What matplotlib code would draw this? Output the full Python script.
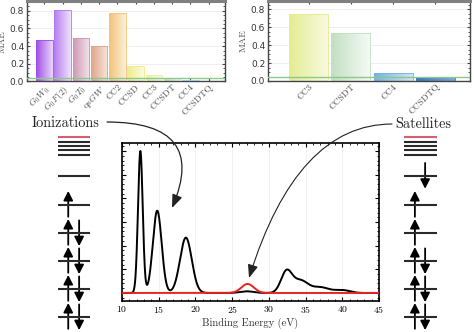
import numpy as np
import matplotlib
matplotlib.use('Agg')
import matplotlib.pyplot as plt
from matplotlib.colors import LinearSegmentedColormap
from matplotlib.patches import FancyArrowPatch
from matplotlib.ticker import MultipleLocator, NullFormatter
import matplotlib.transforms as mtransforms

plt.rcParams['mathtext.fontset'] = 'cm'
plt.rcParams['axes.formatter.use_mathtext'] = True

# ---------------- data ----------------
ion_methods = [r'$G_0W_0$', r'$G_0F(2)$', r'$G_0T_0$', r'qs$GW$', 'CC2', 'CCSD',
               'CC3', 'CCSDT', 'CC4', 'CCSDTQ']
ion_mae = [0.47, 0.81, 0.49, 0.40, 0.77, 0.17, 0.07, 0.045, 0.012, 0.006]
sat_methods = ['CC3', 'CCSDT', 'CC4', 'CCSDTQ']
sat_mae = [0.75, 0.53, 0.09, 0.04]
chem_accuracy = 0.043

ion_dark = ['#a04fe6', '#b57cf0', '#cf97b6', '#dfa48a', '#efc47c', '#eeec8c',
            '#e6f0ac', '#c6dfc0', '#9cc6e8', '#4a86cc']
ion_light = ['#ead6fa', '#f0e2fb', '#f4e4ec', '#f8e6dc', '#fcf0d6', '#fbfbdc',
             '#f9fbe8', '#eff7ec', '#e2eff9', '#a9c9ea']
sat_dark = ['#e4ec94', '#c2dfc2', '#78b2e0', '#3a78c0']
sat_light = ['#f8fade', '#f5faf3', '#d2e5f5', '#7ba9d9']

# stick spectrum (binding energy in eV, intensity, broadening width)
peak_energy = [12.5, 14.8, 18.7, 27.0, 32.4, 34.3, 37.0, 40.0]
peak_height = [6.0, 3.48, 2.34, 0.07, 0.90, 0.51, 0.24, 0.12]
peak_width = [0.32, 0.60, 0.80, 0.90, 0.75, 1.00, 1.20, 1.00]
sat_energy = [27.1]
sat_height = [0.38]
sat_width = [0.85]

# orbital energy levels (arbitrary units) and occupations
levels = [0, 1, 2, 3, 4, 5.05, 5.8, 5.95, 6.1, 6.25, 6.42]
level_red = [False] * 10 + [True]
ion_up = [1, 1, 1, 1, 1, 0, 0, 0, 0, 0, 0]
ion_down = [1, 1, 1, 1, 0, 0, 0, 0, 0, 0, 0]
sat_up = [1, 1, 1, 1, 1, 0, 0, 0, 0, 0, 0]
sat_down = [1, 1, 1, 0, 0, 1, 0, 0, 0, 0, 0]

# ---------------- figure ----------------
W, H = 474, 332
fig = plt.figure(figsize=(W / 100, H / 100), dpi=100)


def px_axes(x0, y0, x1, y1, **kw):
    return fig.add_axes([x0 / W, 1 - y1 / H, (x1 - x0) / W, (y1 - y0) / H], **kw)


def bar_panel(ax, labels, vals, dark, light, width, ylim, xlim):
    x = np.arange(len(vals))
    edges = [c for c in dark]
    bars = ax.bar(x, vals, width=width, facecolor='none', edgecolor=edges,
                  linewidth=0.7, zorder=3, alpha=0.9)
    for b, cd, cl in zip(bars, dark, light):
        cmap = LinearSegmentedColormap.from_list('g', [cd, cl])
        x0, w, h = b.get_x(), b.get_width(), b.get_height()
        im = ax.imshow(np.linspace(0, 1, 64).reshape(1, -1), cmap=cmap,
                       extent=(x0, x0 + w, 0, h), aspect='auto', zorder=2)
        im.set_clip_path(b)
    ax.axhline(chem_accuracy, color='#8cc88c', lw=1.0, zorder=4)
    ax.set_xlim(*xlim)
    ax.set_ylim(*ylim)
    ax.set_yticks([0.0, 0.2, 0.4, 0.6, 0.8])
    ax.yaxis.set_minor_locator(MultipleLocator(0.05))
    ax.set_yticklabels(['0.0', '0.2', '0.4', '0.6', '0.8'], fontsize=6.5,
                       color='#333333', family='DejaVu Sans')
    ax.grid(axis='y', color='#ececec', lw=0.6, zorder=0)
    ax.set_xticks(x)
    ax.set_xticklabels(labels, rotation=45, ha='right', va='top',
                       rotation_mode='anchor', fontsize=6.8, color='#555555',
                       family='cmr10')
    off = mtransforms.ScaledTranslation(5 / 100, -2 / 100, fig.dpi_scale_trans)
    for lbl in ax.get_xticklabels():
        lbl.set_transform(lbl.get_transform() + off)
    ax.tick_params(axis='both', which='both', direction='in', top=True,
                   right=True, color='#444444')
    ax.tick_params(axis='x', length=2.5, pad=1)
    ax.tick_params(axis='y', which='major', length=2.5, pad=2)
    ax.tick_params(axis='y', which='minor', length=1.2)
    for s in ['left', 'right', 'bottom']:
        ax.spines[s].set_color('#444444')
        ax.spines[s].set_linewidth(1.0)
    ax.spines['top'].set_color('#808080')
    ax.spines['top'].set_linewidth(2.2)
    ax.set_ylabel('MAE', family='cmr10', fontsize=7, color='#555555', labelpad=2)


ax1 = px_axes(27, 1, 225, 81.5)
bar_panel(ax1, ion_methods, ion_mae, ion_dark, ion_light, 0.9, (0, 0.91), (-0.95, 9.9))
ax2 = px_axes(268, 1, 470, 81)
bar_panel(ax2, sat_methods, sat_mae, sat_dark, sat_light, 0.92, (0, 0.89), (-0.96, 3.82))

# ---------------- spectrum ----------------
ax3 = px_axes(122, 143, 379, 301)
E = np.linspace(10, 45, 2000)
spec = np.zeros_like(E)
for c, h, s in zip(peak_energy, peak_height, peak_width):
    spec += h * np.exp(-(E - c) ** 2 / (2 * s ** 2))
spec_sat = np.zeros_like(E)
for c, h, s in zip(sat_energy, sat_height, sat_width):
    spec_sat += h * np.exp(-(E - c) ** 2 / (2 * s ** 2))
ax3.plot(E, spec, color='black', lw=1.4, zorder=3)
ax3.plot(E, spec_sat, color='#e8231f', lw=1.4, zorder=4)
ax3.set_xlim(10, 45)
ax3.set_ylim(-0.34, 6.34)
ax3.xaxis.set_major_locator(MultipleLocator(5))
ax3.xaxis.set_minor_locator(MultipleLocator(1))
ax3.yaxis.set_major_locator(MultipleLocator(1))
ax3.yaxis.set_minor_locator(MultipleLocator(0.2))
ax3.yaxis.set_major_formatter(NullFormatter())
ax3.tick_params(which='both', direction='in', top=True, right=True)
ax3.tick_params(which='major', length=3, width=0.8, labelsize=7, pad=2)
ax3.tick_params(which='minor', length=1.5, width=0.6)
for lbl in ax3.get_xticklabels():
    lbl.set_family('cmr10')
ax3.grid(axis='x', color='#f0f0f0', lw=0.6, zorder=0)
for s in ax3.spines.values():
    s.set_linewidth(1.2)
ax3.set_xlabel('Binding Energy (eV)', family='cmr10', fontsize=7.6, labelpad=2,
               color='#333333')

# ---------------- annotations ----------------
ov = fig.add_axes([0, 0, 1, 1], zorder=10)
ov.set_xlim(0, W)
ov.set_ylim(H, 0)
ov.axis('off')
ov.patch.set_alpha(0)
ov.text(32, 123, 'Ionizations', family='cmr10', fontsize=10.3, va='center',
        ha='left', color='#222222')
ov.text(395, 124, 'Satellites', family='cmr10', fontsize=10.3, va='center',
        ha='left', color='#222222')
ov.annotate('', xy=(172, 208), xytext=(107, 122),
            arrowprops=dict(arrowstyle='-|>,head_length=0.9,head_width=0.35',
                            connectionstyle='angle3,angleA=0,angleB=67',
                            lw=0.9, color='#222222', shrinkA=0, shrinkB=0,
                            mutation_scale=9))
ov.annotate('', xy=(249, 278), xytext=(392, 124),
            arrowprops=dict(arrowstyle='-|>,head_length=0.9,head_width=0.35',
                            connectionstyle='angle3,angleA=0,angleB=72.7',
                            lw=0.8, color='#222222', shrinkA=0, shrinkB=0,
                            mutation_scale=9))


# ---------------- orbital diagrams ----------------
def diagram(x0, x1, up, down, upx, downx):
    ax = px_axes(x0, 130, x1, 330)
    ax.set_xlim(0, 1)
    ax.set_ylim(-13 / 28, 187 / 28)
    ax.axis('off')
    for e, red, u, d in zip(levels, level_red, up, down):
        ax.plot([0, 1], [e, e], color='#d4606e' if red else '#2a2a2a',
                lw=1.5, solid_capstyle='butt')
        if u:
            ax.add_patch(FancyArrowPatch((upx, e - 0.42), (upx, e + 0.5),
                                         arrowstyle='-|>,head_length=0.55,head_width=0.28',
                                         mutation_scale=10, lw=1.3, color='black',
                                         shrinkA=0, shrinkB=0))
        if d:
            ax.add_patch(FancyArrowPatch((downx, e + 0.45), (downx, e - 0.47),
                                         arrowstyle='-|>,head_length=0.55,head_width=0.28',
                                         mutation_scale=10, lw=1.3, color='black',
                                         shrinkA=0, shrinkB=0))


diagram(58, 90, ion_up, ion_down, 0.32, 0.66)
diagram(404, 437, sat_up, sat_down, 0.33, 0.64)

fig.savefig('out.png', dpi=100)
